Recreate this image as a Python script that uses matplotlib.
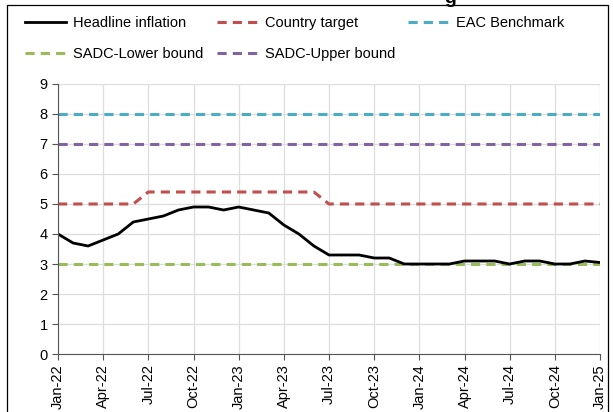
import matplotlib
matplotlib.use("Agg")
import matplotlib.pyplot as plt
import pandas as pd
from matplotlib.patches import Rectangle

plt.rcParams["font.family"] = ["Liberation Sans", "DejaVu Sans"]

months = pd.date_range("2022-01-01", "2025-01-01", freq="MS")
headline = [4.0, 3.7, 3.6, 3.8, 4.0, 4.4, 4.5, 4.6, 4.8, 4.9, 4.9, 4.8,
            4.9, 4.8, 4.7, 4.3, 4.0, 3.6, 3.3, 3.3, 3.3, 3.2, 3.2, 3.0,
            3.0, 3.0, 3.0, 3.1, 3.1, 3.1, 3.0, 3.1, 3.1, 3.0, 3.0, 3.1,
            3.05]
country_target = [5.0] * 6 + [5.4] * 12 + [5.0] * 19
eac_benchmark = [8.0] * 37
sadc_lower = [3.0] * 37
sadc_upper = [7.0] * 37
tick_labels = ["Jan-22", "Apr-22", "Jul-22", "Oct-22", "Jan-23", "Apr-23", "Jul-23",
               "Oct-23", "Jan-24", "Apr-24", "Jul-24", "Oct-24", "Jan-25"]

x = list(range(len(months)))

fig = plt.figure(figsize=(6.13, 4.12), dpi=100)
ax = fig.add_axes((58 / 613, 1 - 354 / 412, 542 / 613, 270 / 412))

ax.plot(x, eac_benchmark, color="#4BACC6", lw=2.2, ls=(0, (3, 2)), label="EAC Benchmark")
ax.plot(x, sadc_upper, color="#8064A2", lw=2.2, ls=(0, (3, 2)), label="SADC-Upper bound")
ax.plot(x, country_target, color="#C0504D", lw=2.2, ls=(0, (3, 2)), label="Country target")
ax.plot(x, sadc_lower, color="#9BBB59", lw=2.2, ls=(0, (3, 2)), label="SADC-Lower bound")
ax.plot(x, headline, color="black", lw=2, label="Headline inflation")

ax.set_xlim(0, 36)
ax.set_ylim(0, 9)
ax.set_yticks(range(10))
ax.set_xticks(range(0, 37, 3))
ax.set_xticklabels(tick_labels, rotation=90)
ax.tick_params(labelsize=10.5, length=4, color="#555555")
ax.grid(True, color="#DDDDDD", lw=0.9)
ax.set_axisbelow(True)
for s in ("top", "right"):
    ax.spines[s].set_visible(False)
for s in ("left", "bottom"):
    ax.spines[s].set_color("#555555")

h, l = ax.get_legend_handles_labels()
order = [4, 3, 2, 1, 0]
fig.legend([h[i] for i in order], [l[i] for i in order], ncol=3, loc="upper left",
           bbox_to_anchor=(25 / 613, 1 - 16 / 412), frameon=False, fontsize=10.5,
           handlelength=2.8, handletextpad=0.5, columnspacing=0.9, labelspacing=1.15,
           borderaxespad=0, borderpad=0)

fig.add_artist(Rectangle((7 / 613, -0.01), 601 / 613, 1 - 5 / 412 + 0.01, transform=fig.transFigure,
                         fill=False, lw=0.9, ec="black"))
fig.text(444 / 613, 1 - 3 / 412, "g", fontsize=14, fontweight="bold", va="baseline")

fig.savefig("out.png", dpi=100, facecolor="white")
